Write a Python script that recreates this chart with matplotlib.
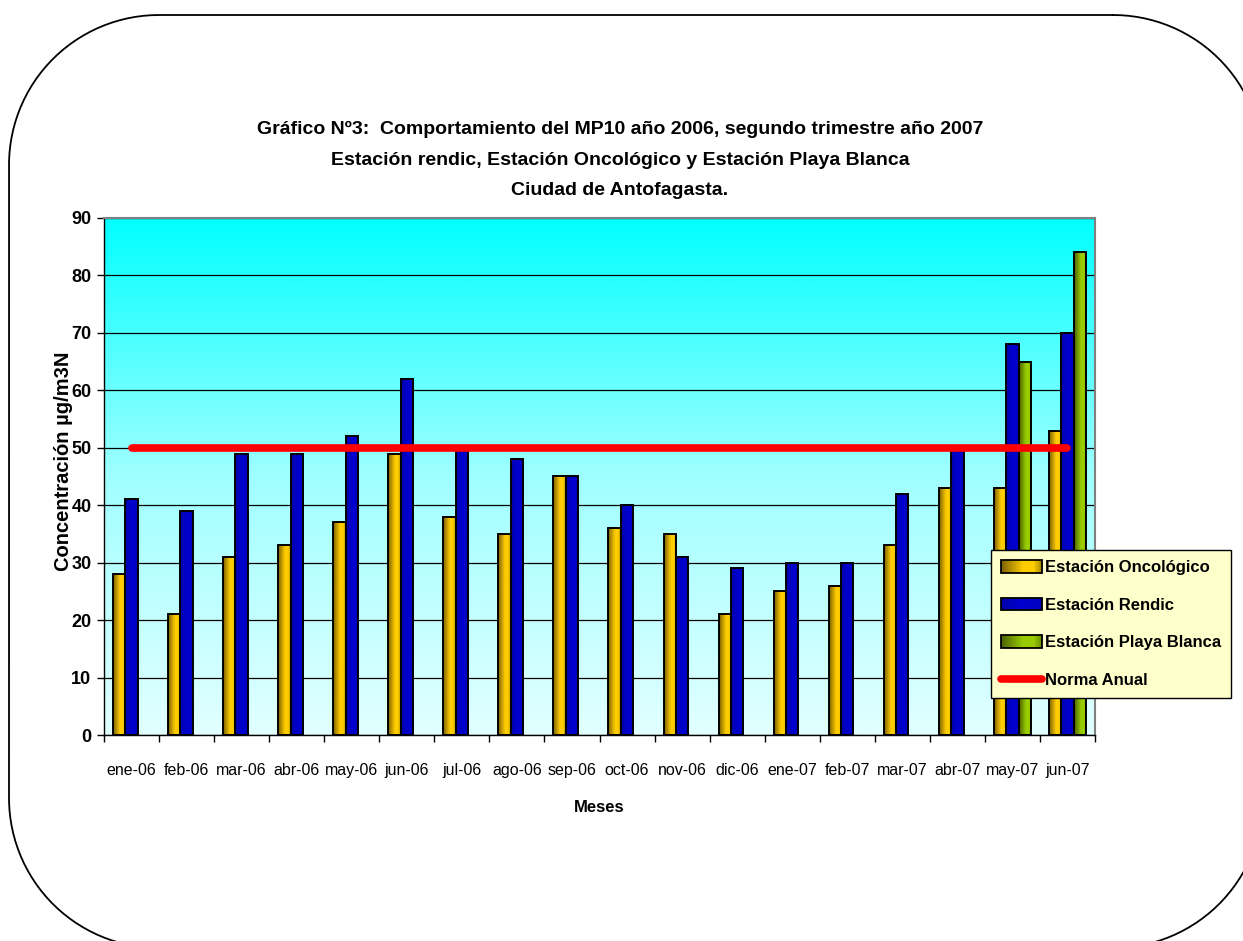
import numpy as np
import matplotlib
matplotlib.use("Agg")
import matplotlib.pyplot as plt
from matplotlib.colors import LinearSegmentedColormap
from matplotlib.patches import Rectangle, Patch
from matplotlib.lines import Line2D
from matplotlib.legend_handler import HandlerBase

plt.rcParams['font.family'] = ['Liberation Sans', 'DejaVu Sans']

# ---- datos ----
meses = ['ene-06', 'feb-06', 'mar-06', 'abr-06', 'may-06', 'jun-06', 'jul-06', 'ago-06',
         'sep-06', 'oct-06', 'nov-06', 'dic-06', 'ene-07', 'feb-07', 'mar-07', 'abr-07',
         'may-07', 'jun-07']
oncologico = [28, 21, 31, 33, 37, 49, 38, 35, 45, 36, 35, 21, 25, 26, 33, 43, 43, 53]
rendic = [41, 39, 49, 49, 52, 62, 50, 48, 45, 40, 31, 29, 30, 30, 42, 50, 68, 70]
playa_blanca = [None] * 16 + [65, 84]
norma_anual = 50

titulo = ("Gráfico Nº3:  Comportamiento del MP10 año 2006, segundo trimestre año 2007\n"
          "Estación rendic, Estación Oncológico y Estación Playa Blanca\n"
          "Ciudad de Antofagasta.")

# gradientes horizontales de las barras (oscuro -> claro -> oscuro)
cm_onc = LinearSegmentedColormap.from_list('onc', [(0, '#7a6000'), (0.55, '#ffcc00'), (0.8, '#ffcc00'), (1, '#a88a00')])
cm_ren = LinearSegmentedColormap.from_list('ren', [(0, '#0000a8'), (0.5, '#0000d0'), (1, '#0000c0')])
cm_pla = LinearSegmentedColormap.from_list('pla', [(0, '#4a6000'), (0.55, '#99cc00'), (0.8, '#99cc00'), (1, '#6e9000')])
cm_fondo = LinearSegmentedColormap.from_list('fondo', [(0, '#e2ffff'), (0.5, '#a0ffff'), (0.85, '#30ffff'), (1, '#00ffff')])

W, H = 1243, 941
fig = plt.figure(figsize=(W / 100, H / 100), dpi=100)

# marco redondeado de la hoja, en pixeles (y hacia abajo)
ax_bg = fig.add_axes([0, 0, 1, 1], zorder=-1)
ax_bg.set_xlim(0, W)
ax_bg.set_ylim(H, 0)
ax_bg.axis('off')
x0, y0, x1, y1, r = 9, 15, 1263, 948, 150
esquinas = [((x1 - r, y0 + r), -90, 0), ((x1 - r, y1 - r), 0, 90),
            ((x0 + r, y1 - r), 90, 180), ((x0 + r, y0 + r), 180, 270)]
px, py = [], []
for (cx, cy), a0, a1 in esquinas:
    t = np.radians(np.linspace(a0, a1, 60))
    px.extend(cx + r * np.cos(t))
    py.extend(cy + r * np.sin(t))
px.append(px[0])
py.append(py[0])
ax_bg.plot(px, py, color='black', linewidth=1.3)

ax = fig.add_axes([104 / W, 1 - 735 / H, 991 / W, 517 / H])
n = len(meses)
x = np.arange(n)
w = 0.225

grad = np.linspace(0, 1, 64).reshape(1, -1)
ax.imshow(np.linspace(0, 1, 256).reshape(-1, 1)[::-1], cmap=cm_fondo, aspect='auto',
          extent=[-0.5, n - 0.5, 0, 90], zorder=0, interpolation='bilinear')


def barras(valores, desplaz, cmap):
    for i, v in enumerate(valores):
        if v is None:
            continue
        xi = i + desplaz - w / 2
        ax.imshow(grad, cmap=cmap, aspect='auto', extent=[xi, xi + w, 0, v],
                  zorder=2, interpolation='bilinear')
    xs = [i + desplaz for i, v in enumerate(valores) if v is not None]
    vs = [v for v in valores if v is not None]
    ax.bar(xs, vs, w, fill=False, edgecolor='black', linewidth=1.4, zorder=3)


barras(oncologico, -w, cm_onc)
barras(rendic, 0, cm_ren)
barras(playa_blanca, w, cm_pla)

ax.plot([0, n - 1], [norma_anual, norma_anual], color='#ff0000', linewidth=5.5,
        solid_capstyle='round', zorder=4)

ax.set_xlim(-0.5, n - 0.5)
ax.set_ylim(0, 90)
ax.set_yticks(np.arange(0, 91, 10))
ax.grid(axis='y', color='black', linewidth=0.9)
ax.set_axisbelow(True)

ax.set_xticks(x)
ax.set_xticklabels(meses, fontsize=11.5)
ax.set_xticks(np.arange(-0.5, n, 1), minor=True)
ax.tick_params(axis='x', which='major', length=0, pad=20)
ax.tick_params(axis='x', which='minor', length=5, width=1, direction='out')
ax.tick_params(axis='y', length=5, width=1, direction='out', pad=4)
for t in ax.get_yticklabels():
    t.set_fontweight('bold')
    t.set_fontsize(13)

for s in ('top', 'right'):
    ax.spines[s].set_color('#808080')
    ax.spines[s].set_linewidth(1.5)
for s in ('left', 'bottom'):
    ax.spines[s].set_color('black')
    ax.spines[s].set_linewidth(1.0)

ax.set_ylabel('Concentración µg/m3N', fontsize=14.5, fontweight='bold')
ax.yaxis.set_label_coords(-0.031, 0.53)
ax.set_xlabel('Meses', fontsize=12, fontweight='bold', labelpad=16)

fig.text(620 / W, 1 - 160 / H, titulo, ha='center', va='center', fontsize=14,
         fontweight='bold', linespacing=2.05)


# leyenda con muestras en degradado
class HandlerDegradado(HandlerBase):
    def __init__(self, cmap):
        super().__init__()
        self.cmap = cmap

    def create_artists(self, legend, orig_handle, xdescent, ydescent, width, height, fontsize, trans):
        k = 30
        arts = []
        for j in range(k):
            arts.append(Rectangle((-xdescent + width * j / k, -ydescent), width / k * 1.05, height,
                                  facecolor=self.cmap((j + 0.5) / k), edgecolor='none', transform=trans))
        arts.append(Rectangle((-xdescent, -ydescent), width, height, fill=False,
                              edgecolor='black', linewidth=1.3, transform=trans))
        return arts


h_onc = Patch(label='Estación Oncológico')
h_ren = Patch(label='Estación Rendic')
h_pla = Patch(label='Estación Playa Blanca')
h_nor = Line2D([], [], color='#ff0000', linewidth=5.5, solid_capstyle='round', label='Norma Anual')

leg = fig.legend(handles=[h_onc, h_ren, h_pla, h_nor],
                 handler_map={h_onc: HandlerDegradado(cm_onc), h_ren: HandlerDegradado(cm_ren),
                              h_pla: HandlerDegradado(cm_pla)},
                 loc='upper left', bbox_to_anchor=(991 / W, 1 - 550 / H), borderaxespad=0,
                 prop={'weight': 'bold', 'size': 12}, fancybox=False,
                 facecolor='#ffffcc', edgecolor='black', framealpha=1,
                 handlelength=2.45, handleheight=0.8, handletextpad=0.2, labelspacing=1.35,
                 borderpad=0.6)
leg.get_frame().set_linewidth(1.0)

fig.savefig('out.png', dpi=100)
